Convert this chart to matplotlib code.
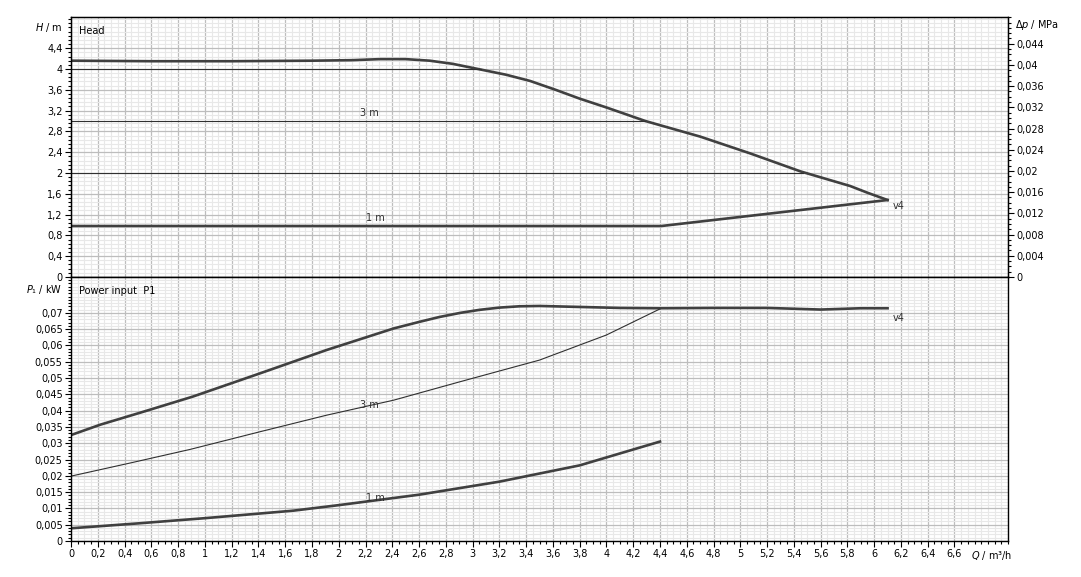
import matplotlib

matplotlib.use("Agg")
import matplotlib.pyplot as plt
from matplotlib.ticker import FixedLocator, MultipleLocator, FuncFormatter

# head curves (Q in m3/h, H in m)
q_head_max = [0, 0.6, 1.2, 1.8, 2.1, 2.31, 2.5, 2.68, 2.85, 3.06, 3.25, 3.43, 3.62, 3.80, 4.0, 4.29,
              4.70, 5.07, 5.45, 5.82, 5.95, 6.10]
h_head_max = [4.16, 4.15, 4.15, 4.16, 4.17, 4.19, 4.19, 4.16, 4.10, 3.99, 3.89, 3.77, 3.60, 3.43, 3.26, 3.00,
              2.70, 2.38, 2.03, 1.75, 1.62, 1.48]
q_head_4m = [0, 3.06]
h_head_4m = [4.0, 4.0]
q_head_3m = [0, 4.29]
h_head_3m = [3.0, 3.0]
q_head_2m = [0, 5.47]
h_head_2m = [2.0, 2.0]
q_head_1m = [0, 4.41, 6.10]
h_head_1m = [0.98, 0.98, 1.48]

# power curves (Q in m3/h, P1 in kW)
q_pow_max = [0, 0.22, 0.52, 0.91, 1.41, 1.91, 2.41, 2.6, 2.75, 2.91, 3.05, 3.2, 3.35, 3.5, 3.8, 4.1, 4.4,
             4.8, 5.2, 5.6, 5.9, 6.1]
p_pow_max = [0.0325, 0.0357, 0.0394, 0.0443, 0.0514, 0.0586, 0.0652, 0.0672, 0.0687, 0.0700, 0.0709, 0.0716,
             0.0720, 0.0721, 0.0718, 0.0715, 0.0714, 0.0715, 0.0715, 0.0710, 0.0714, 0.0714]
q_pow_3m = [0, 0.45, 0.89, 1.41, 1.91, 2.41, 2.91, 3.5, 4.0, 4.4]
p_pow_3m = [0.0199, 0.0240, 0.0281, 0.0335, 0.0386, 0.0432, 0.0489, 0.0555, 0.0632, 0.0712]
q_pow_1m = [0, 0.5, 1.0, 1.66, 2.0, 2.6, 3.2, 3.8, 4.4]
p_pow_1m = [0.0039, 0.0054, 0.0070, 0.0093, 0.0110, 0.0142, 0.0182, 0.0232, 0.0305]

q_ticks = [round(0.2 * i, 1) for i in range(34)]
h_ticks = [round(0.4 * i, 1) for i in range(12)]
dp_ticks = [round(0.004 * i, 3) for i in range(12)]
p_ticks = [round(0.005 * i, 3) for i in range(15)]

RHO_G = 0.00981  # MPa per m
CURVE = "#404040"
THIN = "#303030"
FS = 7


def comma(v, _pos=None):
    return f"{v:g}".replace(".", ",")


def style_grid(ax, yminor):
    ax.set_xlim(0, 7)
    ax.xaxis.set_major_locator(FixedLocator(q_ticks))
    ax.xaxis.set_minor_locator(MultipleLocator(0.05))
    ax.yaxis.set_minor_locator(MultipleLocator(yminor))
    ax.grid(True, which="minor", color="#e8e8e8", linewidth=0.8)
    ax.grid(True, which="major", color="#bdbdbd", linewidth=0.9)
    ax.set_axisbelow(True)
    ax.tick_params(which="major", length=4, width=0.8, labelsize=FS, pad=2)
    ax.tick_params(which="minor", length=2.5, width=0.8)
    for spine in ax.spines.values():
        spine.set_color("black")
        spine.set_linewidth(1)


fig = plt.figure(figsize=(10.81, 5.77), dpi=100)
ax_h = fig.add_axes([0.0657, 0.520, 0.8668, 0.4505])
ax_p = fig.add_axes([0.0657, 0.0624, 0.8668, 0.4576])

# --- head panel ---
style_grid(ax_h, 0.08)
ax_h.set_ylim(0, 5)
ax_h.yaxis.set_major_locator(FixedLocator(h_ticks))
ax_h.yaxis.set_major_formatter(FuncFormatter(comma))
ax_h.tick_params(axis="x", which="both", length=0, labelbottom=False)

ax_h.plot(q_head_max, h_head_max, color=CURVE, linewidth=1.9)
ax_h.plot(q_head_4m, h_head_4m, color=THIN, linewidth=0.8)
ax_h.plot(q_head_3m, h_head_3m, color=THIN, linewidth=0.8)
ax_h.plot(q_head_2m, h_head_2m, color=THIN, linewidth=0.8)
ax_h.plot(q_head_1m, h_head_1m, color=CURVE, linewidth=1.9)

ax_h.text(2.16, 3.1, "3 m", fontsize=FS, color=THIN)
ax_h.text(2.2, 1.08, "1 m", fontsize=FS, color=THIN)
ax_h.text(6.14, 1.3, "v4", fontsize=FS, color=THIN)
ax_h.text(0.009, 0.965, "Head", transform=ax_h.transAxes, fontsize=FS, va="top")
ax_h.annotate("$H$ / m", xy=(0, 4.8), xycoords=("axes fraction", "data"), xytext=(-6, 0),
              textcoords="offset points", ha="right", va="center", fontsize=FS)

ax_dp = ax_h.twinx()
ax_dp.set_ylim(0, 5 * RHO_G)
ax_dp.yaxis.set_major_locator(FixedLocator(dp_ticks))
ax_dp.yaxis.set_minor_locator(MultipleLocator(0.001))
ax_dp.yaxis.set_major_formatter(FuncFormatter(comma))
ax_dp.tick_params(which="major", length=4, width=0.8, labelsize=FS, pad=2)
ax_dp.tick_params(which="minor", length=2.5, width=0.8)
ax_dp.annotate(r"$\Delta p$ / MPa", xy=(1, 0.0475), xycoords=("axes fraction", "data"), xytext=(5, 0),
               textcoords="offset points", ha="left", va="center", fontsize=FS)

# --- power panel ---
style_grid(ax_p, 0.001)
ax_p.set_ylim(0, 0.081)
ax_p.yaxis.set_major_locator(FixedLocator(p_ticks))
ax_p.yaxis.set_major_formatter(FuncFormatter(comma))
ax_p.xaxis.set_major_formatter(FuncFormatter(comma))

ax_p.plot(q_pow_max, p_pow_max, color=CURVE, linewidth=1.9)
ax_p.plot(q_pow_3m, p_pow_3m, color=THIN, linewidth=0.8)
ax_p.plot(q_pow_1m, p_pow_1m, color=CURVE, linewidth=1.9)

ax_p.text(2.16, 0.0408, "3 m", fontsize=FS, color=THIN)
ax_p.text(2.2, 0.0122, "1 m", fontsize=FS, color=THIN)
ax_p.text(6.14, 0.0675, "v4", fontsize=FS, color=THIN)
ax_p.text(0.008, 0.965, "Power input  P1", transform=ax_p.transAxes, fontsize=FS, va="top")
ax_p.annotate("$P$₁ / kW", xy=(0, 0.0772), xycoords=("axes fraction", "data"), xytext=(-6, 0),
              textcoords="offset points", ha="right", va="center", fontsize=FS)
ax_p.annotate("$Q$ / m³/h", xy=(6.88, 0), xycoords=("data", "axes fraction"), xytext=(0, -6),
              textcoords="offset points", ha="center", va="top", fontsize=FS)

fig.savefig("out.png", dpi=100)
